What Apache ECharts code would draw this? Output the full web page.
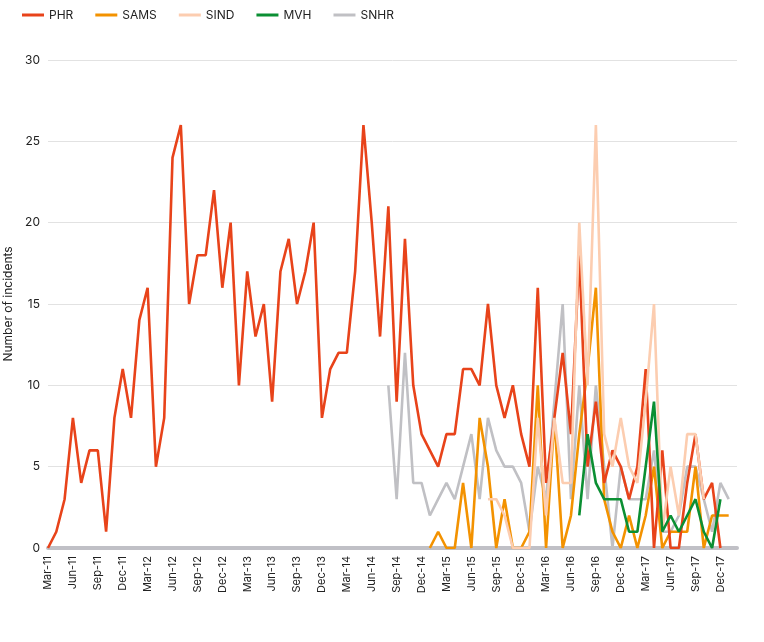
<!DOCTYPE html>
<html><head><meta charset="utf-8">
<script src="https://cdn.jsdelivr.net/npm/echarts@6/dist/echarts.min.js"></script>
<style>html,body{margin:0;padding:0;background:#fff}#c{width:764px;height:642px}</style>
</head><body><div id="c"></div>
<script>
const monthNames=['Jan','Feb','Mar','Apr','May','Jun','Jul','Aug','Sep','Oct','Nov','Dec'];
const categories=[];
for(let k=0;k<84;k++){const m=(2+k)%12;const y=11+Math.floor((2+k)/12);categories.push(monthNames[m]+'-'+y);}
const PHR=[0,1,3,8,4,6,6,1,8,11,8,14,16,5,8,24,26,15,18,18,22,16,20,10,17,13,15,9,17,19,15,17,20,8,11,12,12,17,26,20,13,21,
9,19,10,7,6,5,7,7,11,11,10,15,10,8,10,7,5,16,4,8,12,7,18,5,9,4,6,5,3,5,11,0,6,0,0,4,7,3,4,0];
const SAMS_START=46;
const SAMS=[0,1,0,0,4,0,8,5,0,3,0,0,1,10,0,8,0,2,7,11,16,3,1,0,2,0,2,5,0,1,1,1,5,0,2,2,2];
const SIND_START=53;
const SIND=[3,3,2,0,0,0,8,2,8,4,4,20,10,26,7,5,8,5,4,9,15,1,5,2,7,7,3];
const MVH_START=64;
const MVH=[2,7,4,3,3,3,1,1,5,9,1,2,1,2,3,1,0,3];
const SNHR_START=41;
const SNHR=[10,3,12,4,4,2,3,4,3,5,7,3,8,6,5,5,4,1,5,3,9,15,3,10,3,10,5,0,5,3,3,3,6,1,1,2,5,5,3,1,4,3];
const yTicks=[0,5,10,15,20,25,30];
function pad(start,arr){const o=new Array(84).fill(null);arr.forEach((v,i)=>o[start+i]=v);return o;}
const chart=echarts.init(document.getElementById('c'));
const mk=(name,data,color,z)=>({name,type:'line',data,symbol:'none',z,lineStyle:{width:2.6,color},itemStyle:{color},connectNulls:false});
chart.setOption({
  animation:false,
  textStyle:{fontFamily:'Inter, Roboto, sans-serif'},
  legend:{left:17,top:4,icon:'rect',itemWidth:22,itemHeight:3,itemGap:22,itemStyle:{},
    textStyle:{fontSize:12,color:'#222',width:60},
    data:['PHR','SAMS','SIND','MVH','SNHR']},
  grid:{left:48,right:27,top:60,bottom:94,containLabel:false,outerBoundsMode:'none'},
  xAxis:{type:'category',data:categories,boundaryGap:false,
    axisLine:{lineStyle:{color:'#c0c0c6',width:4}},axisTick:{show:false},
    axisLabel:{interval:2,rotate:90,color:'#222',fontSize:11,margin:8}},
  yAxis:{type:'value',min:0,max:30,interval:5,name:'Number of incidents',nameLocation:'middle',nameGap:30,
    nameTextStyle:{fontSize:12,color:'#222'},
    axisLabel:{color:'#222',fontSize:12,formatter:v=>yTicks.includes(v)?String(v):''},
    axisLine:{show:false},axisTick:{show:false},splitLine:{lineStyle:{color:'#e2e2e2'}}},
  series:[
    mk('PHR',PHR.concat(new Array(84-PHR.length).fill(null)),'#e8431a',4),
    mk('SAMS',pad(SAMS_START,SAMS),'#f39200',3),
    mk('SIND',pad(SIND_START,SIND),'#fccdb0',5),
    mk('MVH',pad(MVH_START,MVH),'#0b8f33',6),
    mk('SNHR',pad(SNHR_START,SNHR),'#c0c0c4',1)
  ]
});
</script></body></html>
